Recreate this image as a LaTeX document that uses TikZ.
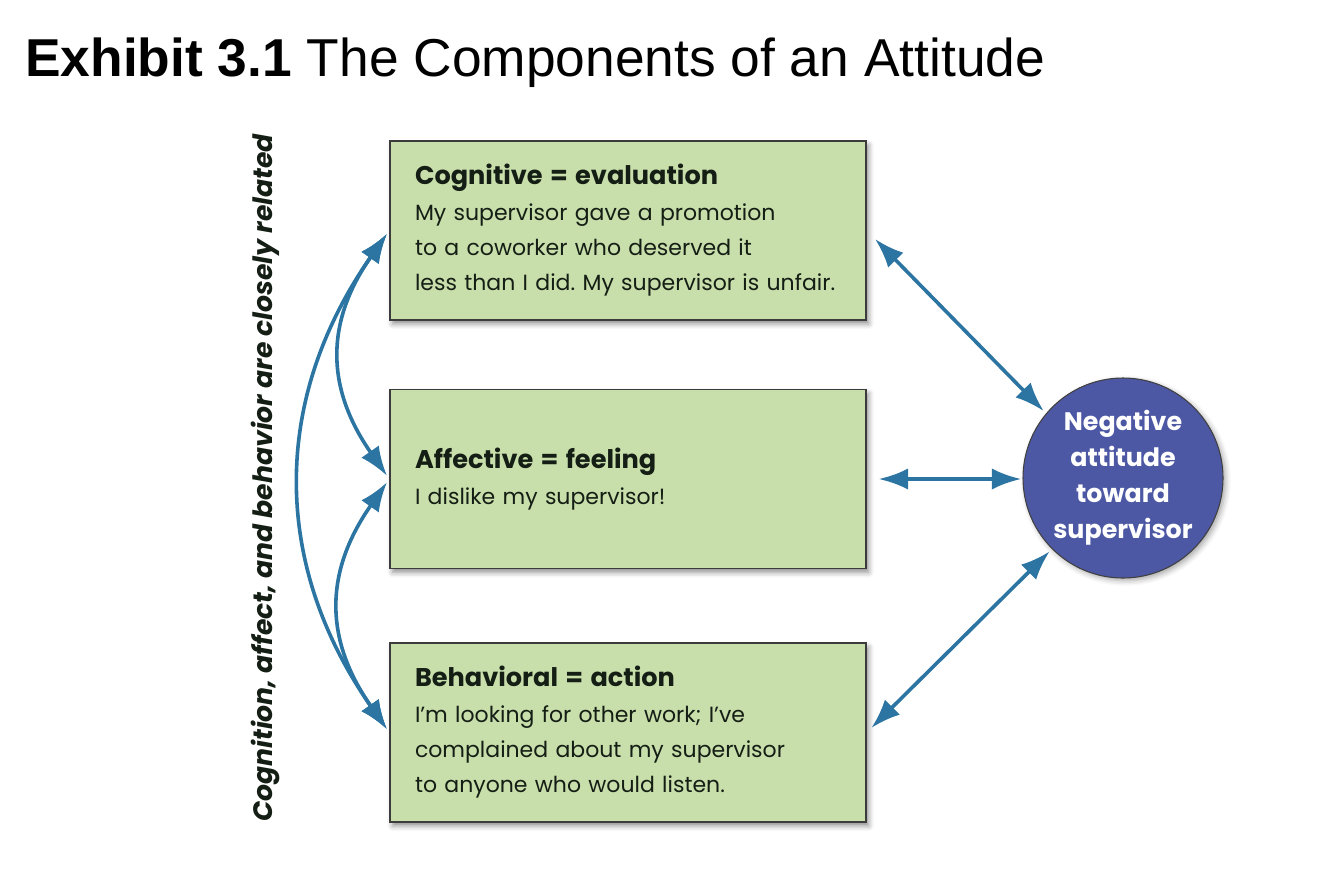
\documentclass[tikz,border=0pt]{standalone}
\usepackage{fontspec}
\setmainfont{Poppins}
\newfontfamily\titlefont{Liberation Sans}
\definecolor{attGreen}{HTML}{C8DEAB}
\definecolor{attBorder}{HTML}{3C3C3C}
\definecolor{attBlue}{HTML}{2C74A1}
\definecolor{attViolet}{HTML}{4C58A4}
\definecolor{attInk}{HTML}{141E14}
\newcommand{\encabezado}[1]{{\bfseries\fontsize{19.2}{26.5}\selectfont #1}}
\frenchspacing
\usepackage{tikz}
\usetikzlibrary{
	arrows.meta,
	shadows.blur
}
\tikzset{
	componente/.style={
		draw=attBorder,
		line width=1.1pt,
		fill=attGreen,
		minimum width=357pt,
		minimum height=134pt,
		text width=319.5pt,
		inner xsep=18.75pt,
		align=left,
		text=attInk,
		font=\fontsize{16.5}{26.5}\selectfont,
		blur shadow={shadow xshift=2pt, shadow yshift=-3pt, shadow blur radius=4pt, shadow opacity=45}
	},
	actitud/.style={
		circle,
		draw=black!75,
		line width=0.8pt,
		fill=attViolet,
		minimum size=150pt,
		inner sep=0pt,
		align=center,
		text=white,
		font=\bfseries\fontsize{19}{27}\selectfont,
		blur shadow={shadow xshift=2pt, shadow yshift=-2pt, shadow blur radius=4pt, shadow opacity=35}
	},
	flecha/.style={
		{Latex[length=22pt,width=16pt]}-{Latex[length=22pt,width=16pt]},
		line width=2.7pt,
		attBlue
	},
	flechaCurva/.style={
		flecha,
		out=235,
		in=125,
		shorten <=3pt,
		shorten >=3pt
	}
}
\begin{document}
\begin{tikzpicture}[x=0.75pt, y=0.75pt]
		\useasboundingbox (0,0) rectangle (1334,-875);
		\node[anchor=base west, inner sep=0pt, font=\titlefont\fontsize{40}{40}\selectfont] (titulo) at (25,-76) {\textbf{Exhibit 3.1} The Components of an Attitude};
		\node[componente] (cog) at (628,-230.5) {\encabezado{Cognitive = evaluation}\\My supervisor gave a promotion\\to a coworker who deserved it\\less than I did. My supervisor is unfair.};
		\node[componente] (aff) at (628,-479) {\encabezado{Affective = feeling}\\I dislike my supervisor!};
		\node[componente] (beh) at (628,-732.5) {\encabezado{Behavioral = action}\\I’m looking for other work; I’ve\\complained about my supervisor\\to anyone who would listen.};
		\node[actitud] (att) at (1123,-478) {Negative\\attitude\\toward\\supervisor};
		\node[rotate=90, inner sep=0pt, text=attInk, font=\bfseries\itshape\fontsize{20}{20}\selectfont] (lema) at (265,-478) {Cognition, affect, and behavior are closely related};
		\draw[flecha, shorten <=9pt, shorten >=2.5pt] (cog.east) -- (att.140);
		\draw[flecha, shorten <=9pt, shorten >=1pt] (aff.east) -- (aff.east -| att.west);
		\draw[flecha, shorten <=5pt, shorten >=2.5pt] (beh.east) -- (att.225);
		\draw[flechaCurva, looseness=1.15] (cog.west) to (aff.west);
		\draw[flechaCurva, looseness=1.15] (aff.west) to (beh.west);
		\draw[flechaCurva, looseness=1.05] (cog.west) to (beh.west);
	\end{tikzpicture}
\end{document}
